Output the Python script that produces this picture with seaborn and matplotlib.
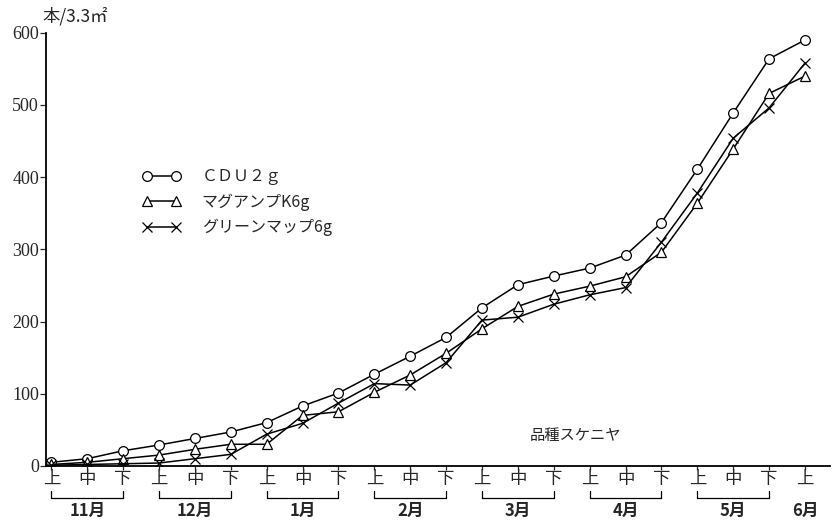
import numpy as np
import pandas as pd
import matplotlib
matplotlib.use("Agg")
import matplotlib.pyplot as plt
import matplotlib.transforms as mtransforms
import seaborn as sns

# ---- data ----
periods = ["上", "中", "下"] * 7 + ["上"]
months = ["11月", "12月", "1月", "2月", "3月", "4月", "5月", "6月"]
series_names = ["ＣＤＵ２ｇ", "マグアンプK6g", "グリーンマップ6g"]
cdu = [5, 10, 21, 29, 38, 47, 60, 83, 101, 127, 152, 178, 219, 251, 263, 274, 292, 337, 411, 489, 564, 590]
magamp = [2, 5, 10, 15, 23, 30, 30, 70, 75, 102, 126, 156, 190, 221, 238, 249, 262, 296, 364, 439, 516, 540]
green = [1, 2, 3, 4, 10, 16, 44, 59, 87, 114, 112, 143, 202, 206, 224, 237, 247, 310, 378, 454, 496, 558]
y_ticks = [0, 100, 200, 300, 400, 500, 600]
ylabel = "本/3.3㎡"
note = "品種スケニヤ"

sns.set_style("ticks")
plt.rcParams['font.family'] = ['Liberation Serif', 'Noto Sans CJK JP', 'DejaVu Sans']

pos = list(range(len(periods)))
df = pd.DataFrame({
    "pos": pos * 3,
    "value": cdu + magamp + green,
    "series": [series_names[0]] * len(pos) + [series_names[1]] * len(pos) + [series_names[2]] * len(pos),
})

fig = plt.figure(figsize=(8.36, 5.2), dpi=100)
ax = fig.add_axes([0.055, 0.104, 0.938, 0.833])

markers = ["o", "^", "x"]
msizes = [7, 6.5, 6.5]
for name, mk, ms in zip(series_names, markers, msizes):
    sub = df[df["series"] == name]
    sns.lineplot(data=sub, x="pos", y="value", ax=ax, color="black",
                 marker=mk, markersize=ms, markerfacecolor="white",
                 markeredgecolor="black", markeredgewidth=0.9,
                 linewidth=1.1, label=name, legend=False)

ax.set_xlim(-0.15, 21.7)
ax.set_ylim(0, 600)
ax.set_yticks(y_ticks)
ax.set_yticklabels([str(v) for v in y_ticks], fontsize=13)
ax.set_xticks(pos)
ax.set_xticklabels(periods, fontsize=12.5, family=['Noto Sans CJK JP'])
ax.tick_params(axis='x', length=3, width=0.9, pad=0, direction='out')
ax.tick_params(axis='y', length=4, width=0.9, pad=1)
ax.set_xlabel("")
ax.set_ylabel("")
sns.despine(ax=ax)
for s in ["left", "bottom"]:
    ax.spines[s].set_linewidth(1.3)
    ax.spines[s].set_color("black")

# month brackets
trans = mtransforms.blended_transform_factory(ax.transData, ax.transAxes)
yb, hb = -0.074, 0.016
for m, lab in enumerate(months):
    s = 3 * m
    if m < len(months) - 1:
        e = s + 2
        ax.plot([s, s, e, e], [yb + hb, yb, yb, yb + hb], color="black",
                lw=0.9, transform=trans, clip_on=False)
        cx = s + 1
    else:
        cx = s
    ax.text(cx, -0.104, lab, transform=trans, ha="center", va="center",
            fontsize=12, family=['Noto Sans CJK JP'], fontweight='bold')

ax.text(-0.004, 1.037, ylabel, transform=ax.transAxes, ha="left", va="center",
        fontsize=12.5, family=['Noto Sans CJK JP', 'DejaVu Sans'])
ax.text(0.617, 0.07, note, transform=ax.transAxes, ha="left", va="center",
        fontsize=11, family=['Noto Sans CJK JP'])

handles = ax.get_lines()[:3]
leg = ax.legend(handles=handles, labels=series_names, loc="upper left",
                bbox_to_anchor=(0.105, 0.72), frameon=False, numpoints=2,
                handlelength=2.4, handletextpad=1.3, labelspacing=0.5,
                prop={'family': ['Noto Sans CJK JP'], 'size': 11.5})

fig.savefig("out.png", dpi=100)
